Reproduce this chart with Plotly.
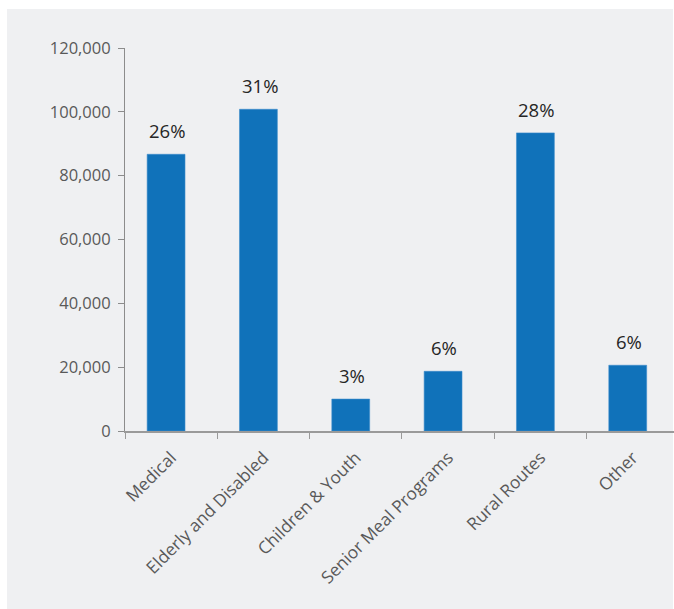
import plotly.graph_objects as go

categories = ["Medical", "Elderly and Disabled", "Children & Youth",
              "Senior Meal Programs", "Rural Routes", "Other"]
values = [86700, 100800, 10000, 18700, 93400, 20600]
pct_labels = ["26%", "31%", "3%", "6%", "28%", "6%"]
y_ticks = [0, 20000, 40000, 60000, 80000, 100000, 120000]

W, H = 674, 609
L, R, T, B = 125, 0, 48, 178
pw, ph = W - L - R, H - T - B
cat_px = 92.33

fig = go.Figure()
fig.add_trace(go.Bar(
    x=categories, y=values,
    width=0.41, offset=-0.26,
    marker=dict(color="#1072BA", line=dict(color="#3D8CCB", width=0.6)),
    hoverinfo="skip",
))

for c, v, t in zip(categories, values, pct_labels):
    fig.add_annotation(x=c, y=v, text=t, showarrow=False,
                       xref="x", yref="y", yanchor="bottom",
                       xshift=-4, yshift=9,
                       font=dict(family="Open Sans", size=18.5, color="#262626"))

def px_x(p):
    return (p - L) / pw

def px_y(p):
    return (T + ph - p) / ph

fig.add_shape(type="rect", xref="paper", yref="paper", layer="below",
              x0=px_x(7), x1=px_x(673), y0=px_y(612), y1=px_y(9),
              fillcolor="#EFF0F2", line=dict(width=0))

fig.update_layout(
    width=W, height=H,
    margin=dict(l=L, r=R, t=T, b=B, pad=0),
    paper_bgcolor="white",
    plot_bgcolor="rgba(0,0,0,0)",
    showlegend=False,
    font=dict(family="Open Sans", color="#595959"),
    xaxis=dict(
        type="category",
        range=[-0.5, -0.5 + pw / cat_px],
        showgrid=False, zeroline=False,
        showline=True, linecolor="#9A9A9A", linewidth=1.5,
        ticks="outside", tickson="boundaries", ticklen=6,
        tickcolor="#9A9A9A", tickwidth=1,
        tickangle=-45,
        tickfont=dict(family="Open Sans", size=17.3, color="#595959"),
        ticklabelstandoff=8,
    ),
    yaxis=dict(
        range=[0, 120000],
        tickvals=y_ticks,
        ticktext=[f"{v:,}" for v in y_ticks],
        showgrid=False, zeroline=False,
        showline=True, linecolor="#8C8C8C", linewidth=1,
        ticks="outside", ticklen=6, tickcolor="#8C8C8C",
        tickfont=dict(family="Open Sans", size=16.5, color="#595959"),
        ticklabelstandoff=4,
    ),
)

fig.write_html("out.html")
